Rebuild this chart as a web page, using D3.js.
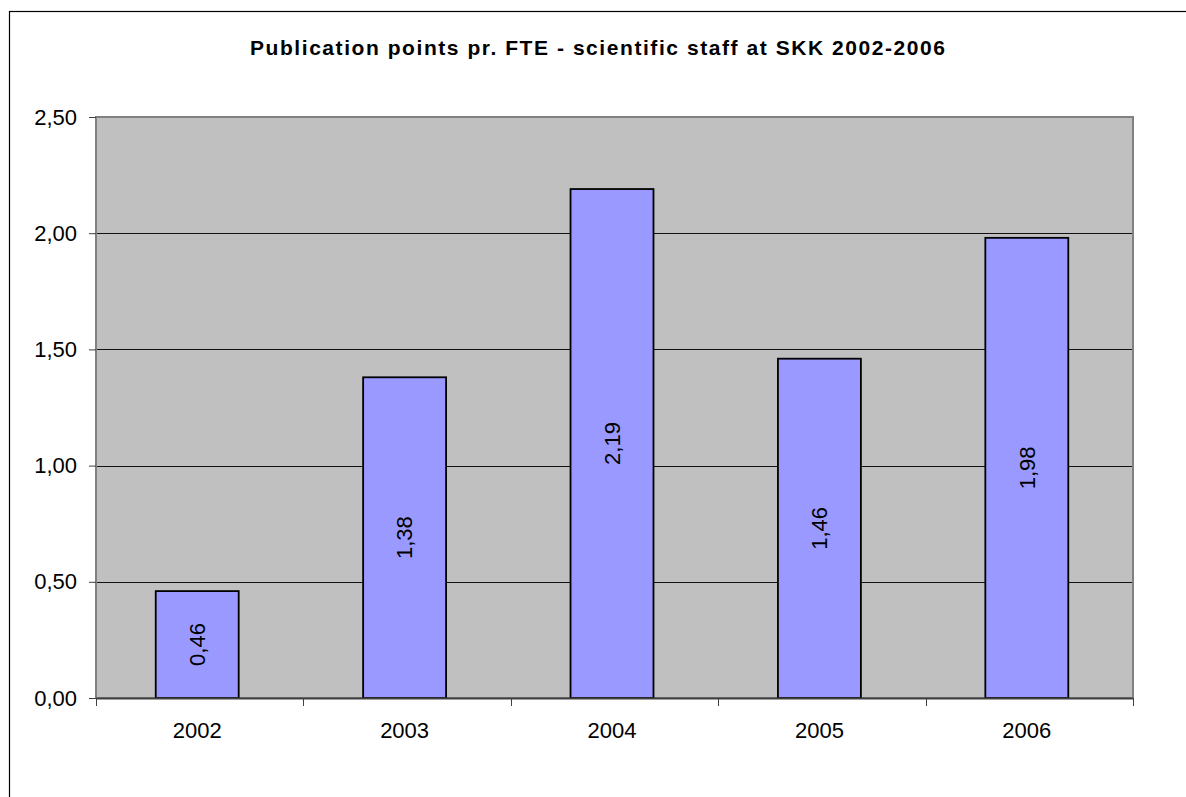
<!DOCTYPE html>
<html>
<head>
<meta charset="utf-8">
<script src="https://cdn.jsdelivr.net/npm/d3@7"></script>
<style>
  html, body { margin: 0; padding: 0; background: #fff; }
  svg { display: block; }
  text { font-family: "Liberation Sans", Arial, sans-serif; fill: #000; }
</style>
</head>
<body>
<svg id="chart" width="1186" height="797"></svg>
<script>
// Publication points per FTE, scientific staff at SKK
const years = ["2002", "2003", "2004", "2005", "2006"];
const points = [0.46, 1.38, 2.19, 1.46, 1.98];
const yTicks = [0, 0.5, 1.0, 1.5, 2.0, 2.5];
const titleText = "Publication points pr. FTE - scientific staff at SKK 2002-2006";

const svg = d3.select("#chart");
const W = 1186, H = 797;
const plot = { left: 96, top: 117, right: 1133, bottom: 698 };

const fmt = v => d3.format(".2f")(v).replace(".", ",");

// chart frame (runs past the right and bottom edges)
svg.append("rect")
  .attr("x", 9.5).attr("y", 11.5)
  .attr("width", W + 20).attr("height", H + 20)
  .attr("fill", "#fff").attr("stroke", "#000").attr("stroke-width", 1.2);

// title
svg.append("text")
  .attr("x", 597.5).attr("y", 54.5)
  .attr("text-anchor", "middle")
  .attr("font-size", 21).attr("font-weight", "bold")
  .attr("textLength", 695).attr("lengthAdjust", "spacing")
  .text(titleText);

const x = d3.scaleBand()
  .domain(years)
  .range([plot.left, plot.right])
  .paddingInner(0.6).paddingOuter(0.3).align(0.48);

const y = d3.scaleLinear()
  .domain([0, 2.5])
  .range([plot.bottom, plot.top]);

// plot background
svg.append("rect")
  .attr("x", plot.left).attr("y", plot.top)
  .attr("width", plot.right - plot.left).attr("height", plot.bottom - plot.top)
  .attr("fill", "#c0c0c0").attr("stroke", "#808080").attr("stroke-width", 2);

// gridlines
svg.append("g").selectAll("line")
  .data(yTicks.filter(d => d > 0 && d < 2.5))
  .join("line")
  .attr("x1", plot.left).attr("x2", plot.right - 1)
  .attr("y1", d => Math.round(y(d)) + 0.5).attr("y2", d => Math.round(y(d)) + 0.5)
  .attr("stroke", "#111").attr("stroke-width", 1);

// y axis
const yAxis = d3.axisLeft(y).tickValues(yTicks).tickSize(7).tickPadding(12).tickFormat(fmt);
const gy = svg.append("g").attr("transform", `translate(${plot.left},0)`).call(yAxis);
gy.select(".domain").attr("stroke", "#808080");
gy.selectAll(".tick line").attr("stroke", "#404040");
gy.selectAll(".tick text").attr("font-size", 22).attr("font-family", "Liberation Sans, Arial, sans-serif");

// bars
svg.append("g").selectAll("rect")
  .data(points)
  .join("rect")
  .attr("x", (d, i) => x(years[i]))
  .attr("y", d => y(d))
  .attr("width", x.bandwidth())
  .attr("height", d => y(0) - y(d))
  .attr("fill", "#9999ff").attr("stroke", "#000").attr("stroke-width", 1.8);

// value labels, rotated, centred in each bar
svg.append("g").selectAll("text")
  .data(points)
  .join("text")
  .attr("transform", (d, i) => `translate(${x(years[i]) + x.bandwidth() / 2},${(y(d) + y(0)) / 2}) rotate(-90)`)
  .attr("text-anchor", "middle")
  .attr("dy", "0.35em")
  .attr("font-size", 22)
  .text(d => fmt(d));

// x axis with ticks between categories
const step = x.step();
const boundaries = d3.range(years.length + 1).map(i => plot.left + i * step);
svg.append("line")
  .attr("x1", plot.left).attr("x2", plot.right)
  .attr("y1", plot.bottom + 0.5).attr("y2", plot.bottom + 0.5)
  .attr("stroke", "#404040").attr("stroke-width", 2);
svg.append("g").selectAll("line")
  .data(boundaries)
  .join("line")
  .attr("x1", d => Math.round(d) + 0.5).attr("x2", d => Math.round(d) + 0.5)
  .attr("y1", plot.bottom).attr("y2", plot.bottom + 8)
  .attr("stroke", "#404040").attr("stroke-width", 1);
svg.append("g").selectAll("text")
  .data(years)
  .join("text")
  .attr("x", d => x(d) + x.bandwidth() / 2)
  .attr("y", 738)
  .attr("text-anchor", "middle")
  .attr("font-size", 22)
  .text(d => d);
</script>
</body>
</html>
